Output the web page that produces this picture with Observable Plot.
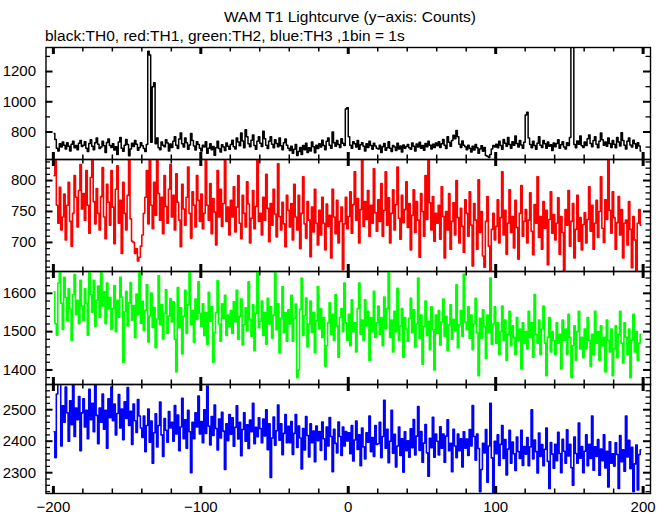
<!DOCTYPE html>
<html><head><meta charset="utf-8">
<script src="https://cdn.jsdelivr.net/npm/d3@7"></script>
<script src="https://cdn.jsdelivr.net/npm/@observablehq/plot@0.6"></script>
<style>
body{margin:0;background:#fff;}
#chart{position:relative;width:669px;height:515px;overflow:hidden;font-family:"Liberation Sans",Arial,sans-serif;color:#000;}
#title{position:absolute;left:0;width:700px;top:9px;text-align:center;font-size:15.5px;line-height:16px;white-space:nowrap;}
#subtitle{position:absolute;left:45px;top:28px;font-size:15.5px;line-height:16px;white-space:nowrap;}
.panel{position:absolute;left:0;}
</style></head>
<body>
<div id="chart">
  <div id="title">WAM T1 Lightcurve (y−axis: Counts)</div>
  <div id="subtitle">black:TH0, red:TH1, green:TH2, blue:TH3 ,1bin = 1s</div>
</div>
<script>
// first bin start (s)
const firstBin = -200;

// TH0 (black)
const th0 = [
790,751,692,675,722,700,734,712,688,729,705,675,719,739,695,710,683,726,743,704,
712,736,692,671,724,748,705,683,729,761,719,690,700,739,709,664,731,754,710,697,
722,681,702,651,734,763,692,673,712,751,717,642,688,726,704,743,719,680,698,729,
709,690,671,717,1335,1310,732,1100,1125,722,760,695,683,734,712,702,748,727,675,720,
697,739,768,712,690,753,794,722,700,760,729,686,714,790,744,707,681,736,717,693,
675,712,700,736,659,692,722,683,704,646,695,739,690,668,715,700,678,727,705,686,
717,746,702,688,761,734,709,794,741,695,815,768,722,702,746,780,710,686,739,768,
726,704,805,756,712,690,739,768,719,695,748,724,702,761,709,683,729,753,712,692,
678,705,659,686,717,645,671,697,651,710,683,726,664,695,675,734,702,663,712,690,
722,700,746,710,683,738,761,712,692,800,729,705,744,717,697,756,726,710,952,960,
768,712,692,736,722,700,744,686,715,729,705,675,722,697,738,710,685,726,707,693,
688,712,664,702,724,680,695,736,692,671,710,700,678,726,688,707,668,714,692,704,
717,695,685,727,705,675,720,700,732,692,710,680,724,702,739,712,688,719,697,727,
709,736,697,722,751,712,690,768,732,705,743,778,756,810,768,719,697,741,712,702,
683,712,692,668,705,681,717,695,659,688,709,673,697,645,640,632,651,688,710,700,
719,695,739,710,686,751,726,705,763,717,693,736,712,773,724,700,744,714,692,732,
912,930,760,717,695,739,710,685,726,768,712,697,744,722,692,734,705,715,678,727,
702,724,748,692,715,736,700,688,729,710,763,1360,1360,717,695,741,719,773,709,697,
734,710,756,780,724,702,744,768,719,695,739,794,748,712,734,705,761,724,697,743,
719,695,763,734,707,795,744,712,688,738,760,714,700,746,722,692,729,707,675
];

// TH1 (red)
const th1 = [
808,840,760,731,789,720,741,778,704,760,797,734,694,747,808,773,725,784,826,754,
779,736,816,760,715,805,840,766,730,787,747,720,774,821,741,706,794,765,728,816,
757,698,786,824,731,768,682,797,747,720,776,837,738,702,700,682,690,670,676,694,
712,747,773,816,730,843,760,722,797,744,845,779,736,773,714,808,758,731,786,826,
741,776,720,811,765,736,693,794,754,728,773,822,747,707,782,760,725,808,768,734,
778,722,747,845,760,736,795,714,771,749,696,816,741,786,726,763,832,734,757,712,
768,741,790,717,757,808,731,706,776,747,725,798,762,699,739,784,722,758,843,734,
747,712,773,736,810,755,701,763,728,786,746,709,827,742,720,765,730,693,776,752,
725,763,704,794,741,720,776,690,747,806,730,707,766,736,677,757,717,786,731,696,
752,712,773,731,688,762,726,744,675,786,741,714,768,699,734,757,656,730,773,722,
742,782,715,761,814,736,771,699,753,838,726,766,737,784,710,760,731,819,748,718,
769,734,795,710,752,814,728,772,699,747,785,720,761,822,739,705,776,732,753,798,
724,763,688,744,785,716,766,736,676,779,750,710,808,737,845,764,720,774,702,747,
731,760,705,790,742,675,750,720,779,689,734,764,712,800,740,699,755,726,684,769,
747,710,782,728,662,763,736,689,801,716,750,678,660,734,774,694,652,721,747,704,
726,769,699,740,814,712,752,681,731,785,716,742,691,768,724,673,747,792,710,734,
753,699,736,780,718,680,761,731,806,708,742,689,766,723,752,664,737,782,715,745,
704,731,772,681,742,716,654,753,728,784,694,734,763,675,721,776,702,740,688,729,
748,699,737,790,718,760,689,731,768,708,750,806,723,700,769,737,840,752,715,782,
740,689,732,774,712,753,675,731,736,696,766,721,659,742,704,655,731,753,728
];

// TH2 (green)
const th2 = [
1604,1521,1491,1627,1660,1574,1506,1642,1589,1529,1612,1559,1477,1597,1649,1544,1582,1521,1634,1567,
1529,1612,1574,1491,1672,1597,1551,1634,1514,1582,1619,1537,1670,1567,1604,1521,1627,1559,1589,1506,
1560,1620,1500,1582,1538,1642,1590,1420,1552,1605,1515,1575,1628,1530,1568,1485,1598,1545,1658,1522,
1579,1503,1556,1623,1473,1541,1601,1511,1563,1458,1533,1646,1518,1571,1481,1548,1609,1496,1541,1586,
1525,1578,1480,1395,1615,1510,1562,1442,1540,1608,1495,1570,1660,1518,1555,1472,1585,1532,1630,1548,
1513,1573,1490,1550,1467,1603,1527,1565,1420,1497,1550,1633,1520,1475,1573,1535,1595,1490,1543,1513,
1555,1495,1578,1525,1608,1480,1540,1585,1465,1518,1562,1502,1630,1532,1488,1570,1450,1548,1668,1510,
1527,1580,1490,1550,1467,1587,1520,1565,1483,1543,1655,1505,1573,1445,1535,1617,1497,1550,1475,1557,
1520,1595,1475,1535,1572,1380,1400,1558,1640,1490,1542,1588,1460,1520,1580,1498,1550,1445,1528,1618,
1507,1560,1485,1537,1410,1463,1523,1575,1493,1545,1477,1597,1515,1433,1537,1560,1500,1627,1523,1477,
1545,1463,1583,1500,1523,1447,1560,1627,1493,1530,1477,1583,1515,1553,1425,1537,1500,1605,1485,1523,
1567,1493,1537,1463,1590,1507,1560,1655,1485,1530,1447,1553,1500,1613,1477,1515,1560,1433,1537,1507,
1475,1535,1587,1497,1557,1460,1520,1640,1483,1543,1415,1513,1580,1490,1527,1453,1565,1505,1400,1543,
1495,1555,1465,1525,1585,1488,1540,1450,1518,1570,1480,1532,1502,1622,1458,1518,1555,1488,1650,1525,
1505,1565,1483,1543,1453,1520,1587,1497,1385,1535,1483,1557,1513,1430,1543,1497,1640,1467,1520,1565,
1470,1523,1440,1500,1567,1477,1530,1425,1493,1553,1463,1515,1485,1440,1537,1477,1507,1403,1523,1470,
1500,1455,1553,1485,1523,1433,1597,1493,1470,1530,1440,1507,1567,1470,1385,1485,1537,1447,1500,1477,
1440,1523,1470,1493,1403,1530,1477,1507,1440,1545,1485,1380,1463,1515,1425,1500,1553,1455,1485,1432,
1507,1455,1537,1477,1410,1493,1440,1553,1470,1500,1425,1515,1463,1485,1395,1530,1477,1447,1507,1385,
1455,1515,1432,1493,1553,1470,1418,1523,1485,1440,1507,1380,1477,1545,1447,1500,1425,1470,1493
];

// TH3 (blue)
const th3 = [
2430,2348,2550,2600,2595,2385,2512,2460,2572,2490,2400,2528,2452,2588,2415,2505,2468,2542,2370,2490,
2535,2445,2498,2408,2565,2468,2520,2430,2602,2482,2392,2505,2460,2550,2438,2498,2378,2535,2475,2572,
2465,2518,2420,2488,2548,2442,2502,2405,2525,2472,2570,2450,2495,2390,2518,2465,2428,2532,2480,2442,
2412,2480,2367,2450,2502,2397,2464,2330,2427,2487,2382,2450,2524,2420,2352,2472,2435,2397,2494,2442,
2460,2400,2513,2423,2483,2370,2445,2536,2408,2468,2378,2498,2430,2300,2460,2408,2490,2445,2543,2423,
2462,2395,2500,2425,2575,2448,2388,2478,2418,2515,2440,2372,2470,2410,2492,2432,2310,2455,2402,2485,
2422,2474,2384,2444,2512,2407,2460,2354,2437,2490,2400,2452,2377,2467,2430,2520,2392,2444,2414,2474,
2440,2395,2470,2417,2500,2373,2455,2285,2410,2477,2387,2433,2515,2403,2455,2357,2425,2485,2395,2447,
2395,2462,2358,2425,2485,2380,2448,2410,2312,2440,2372,2478,2418,2350,2455,2395,2432,2335,2448,2402,
2431,2371,2461,2408,2341,2445,2385,2475,2415,2303,2438,2393,2363,2461,2415,2355,2445,2385,2431,2401,
2427,2360,2450,2337,2404,2464,2374,2420,2322,2442,2382,2344,2427,2397,2480,2367,2412,2352,2450,2390,
2392,2460,2348,2415,2530,2378,2438,2332,2400,2498,2362,2422,2318,2385,2445,2355,2408,2302,2430,2370,
2401,2349,2439,2379,2469,2356,2416,2510,2371,2431,2333,2394,2453,2363,2289,2409,2379,2476,2349,2423,
2400,2356,2446,2378,2423,2333,2416,2468,2370,2393,2303,2438,2385,2348,2423,2370,2408,2318,2430,2378,
2407,2355,2437,2385,2513,2415,2340,2423,2377,2240,2310,2393,2363,2437,2270,2385,2520,2347,2235,2400,
2360,2420,2323,2390,2450,2345,2405,2293,2375,2435,2330,2397,2360,2307,2413,2367,2345,2435,2323,2383,
2359,2412,2322,2382,2500,2344,2404,2367,2299,2426,2352,2389,2322,2374,2442,2336,2250,2396,2359,2314,
2390,2338,2428,2361,2300,2406,2368,2330,2436,2353,2390,2316,2260,2413,2361,2330,2458,2346,2383,2300,
2368,2420,2322,2390,2345,2480,2308,2382,2352,2405,2292,2375,2338,2420,2315,2368,2255,2398,2330,2360,
2321,2395,2358,2250,2418,2335,2373,2305,2480,2350,2403,2313,2381,2240,2328,2388,2245,2358,2373
];

// axis ticks
const xMajor = [-200, -100, 0, 100, 200];
const xMinor = [-180,-160,-140,-120,-80,-60,-40,-20,20,40,60,80,120,140,160,180];
const y0Major = [800, 1000, 1200];
const y0Minor = [700, 900, 1100, 1300];
const y1Major = [700, 750, 800];
const y1Minor = [660,670,680,690,710,720,730,740,760,770,780,790,810,820,830];
const y2Major = [1400, 1500, 1600];
const y2Minor = [1380,1420,1440,1460,1480,1520,1540,1560,1580,1620,1640];
const y3Major = [2300, 2400, 2500];
const y3Minor = [2240,2260,2280,2320,2340,2360,2380,2420,2440,2460,2480,2520,2540,2560];

const W = 669, ML = 45.5, MR = 19, PAD = 3;
const xDom = [-205, 205];
const fmt = d3.format("d");

function panel(values, color, sw, yDom, yMaj, yMin, top, h, last) {
  const data = values.map((v, i) => ({t: firstBin + i + 0.5, v}));
  const mb = last ? 26 : PAD;
  const kx = (xDom[1] - xDom[0]) / (W - ML - MR);
  const ky = (yDom[1] - yDom[0]) / h;
  const majL = 7, minL = 4.5;
  const marks = [
    Plot.line(data, {x: "t", y: "v", stroke: color, strokeWidth: sw, curve: "step", clip: true}),
    Plot.ruleY(yMaj, {y: d => d, x1: xDom[0], x2: xDom[0] + majL * kx, strokeWidth: 2}),
    Plot.ruleY(yMaj, {y: d => d, x1: xDom[1], x2: xDom[1] - majL * kx, strokeWidth: 2}),
    Plot.ruleY(yMin, {y: d => d, x1: xDom[0], x2: xDom[0] + minL * kx, strokeWidth: 1.3}),
    Plot.ruleY(yMin, {y: d => d, x1: xDom[1], x2: xDom[1] - minL * kx, strokeWidth: 1.3}),
    Plot.ruleX(xMajor, {x: d => d, y1: yDom[0], y2: yDom[0] + majL * ky, strokeWidth: 3}),
    Plot.ruleX(xMajor, {x: d => d, y1: yDom[1], y2: yDom[1] - majL * ky, strokeWidth: 3}),
    Plot.ruleX(xMinor, {x: d => d, y1: yDom[0], y2: yDom[0] + minL * ky, strokeWidth: 1.5}),
    Plot.ruleX(xMinor, {x: d => d, y1: yDom[1], y2: yDom[1] - minL * ky, strokeWidth: 1.5}),
    Plot.frame({stroke: "black", strokeWidth: 1.4}),
    Plot.axisY(yMaj, {tickSize: 0, tickPadding: 10, fontSize: 15, label: null, tickFormat: fmt})
  ];
  if (last) marks.push(Plot.axisX(xMajor, {tickSize: 0, tickPadding: 8, fontSize: 15, label: null, tickFormat: fmt}));
  const svg = Plot.plot({
    width: W, height: h + PAD + mb,
    marginLeft: ML, marginRight: MR, marginTop: PAD, marginBottom: mb,
    x: last ? {domain: xDom} : {domain: xDom, axis: null},
    y: {domain: yDom},
    style: {background: "transparent", fontFamily: "'Liberation Sans', Arial, sans-serif", color: "black", overflow: "visible"},
    marks
  });
  const wrap = document.createElement("div");
  wrap.className = "panel";
  wrap.style.top = (top - PAD) + "px";
  wrap.appendChild(svg);
  document.getElementById("chart").appendChild(wrap);
}

panel(th0, "#000000", 1.5, [618, 1359], y0Major, y0Minor, 47, 112, false);
panel(th1, "#ff0000", 1.6, [653, 834], y1Major, y1Minor, 159, 112, false);
panel(th2, "#00ff00", 1.6, [1362, 1657], y2Major, y2Minor, 271, 113, false);
panel(th3, "#0000ff", 1.6, [2234, 2580], y3Major, y3Minor, 384, 109, true);
</script>
</body></html>
